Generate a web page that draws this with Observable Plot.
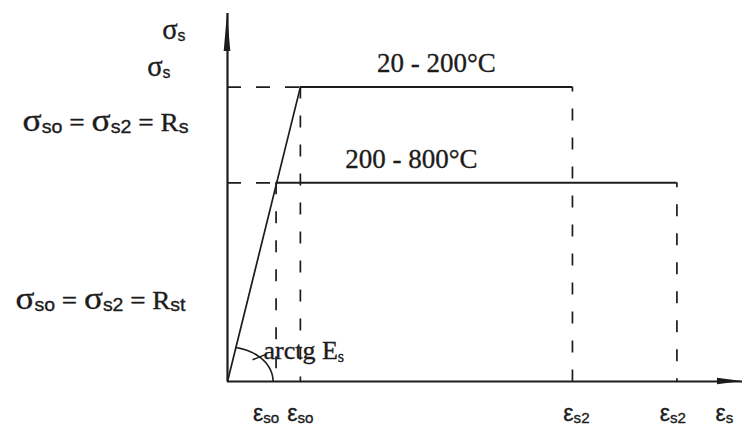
<!DOCTYPE html>
<html><head><meta charset="utf-8">
<script src="https://cdn.jsdelivr.net/npm/d3@7"></script>
<script src="https://cdn.jsdelivr.net/npm/@observablehq/plot@0.6"></script>
<style>body{margin:0;background:#fff}</style>
</head><body><div id="chart"></div>
<script>
// ---- Data (arbitrary normalized units) ----
const tempRanges     = ["200 - 800°C", "20 - 200°C"];
const strainYield    = [1.0, 1.5];     // εso for each temperature range
const strainUltimate = [9.25, 7.1];    // εs2 for each temperature range
const stressYield    = [0.675, 1.0];   // Rst, Rs
const xAxisMax = 10.6;
const yAxisMax = 1.25;
const yLabelTop   = "σ_{s}";
const yLabelSub   = "σ_{s}";
const yLabelRs    = "σ_{so} = σ_{s2} = R_{s}";
const yLabelRst   = "σ_{so} = σ_{s2} = R_{st}";
const xLabelSo    = "ε_{so}";
const xLabelS2    = "ε_{s2}";
const xLabelAxis  = "ε_{s}";
const angleLabel  = "arctg E_{s}";

const rows = stressYield.map((s, i) => ({s, e: strainYield[i], u: strainUltimate[i], label: tempRanges[i]}));
const elastic = [{e: 0, s: 0}, {e: strainYield[1], s: stressYield[1]}];

const ink = "#1c1c1c";
const serif = "Liberation Serif, Times New Roman, serif";
const sans = "Liberation Sans, Arial, sans-serif";
const textStyle = {fill: ink, stroke: ink, strokeWidth: 0.35};

const dash = "12,17";

const plot = Plot.plot({
  width: 743, height: 427,
  marginLeft: 227, marginRight: 1, marginTop: 13, marginBottom: 46,
  x: {domain: [0, xAxisMax], axis: null},
  y: {domain: [0, yAxisMax], axis: null},
  style: {background: "#fff", color: ink, overflow: "visible"},
  marks: [
    // dashed horizontal guides from the axis to the elastic line
    Plot.ruleY(rows, {y: "s", x1: () => 0, x2: "e", stroke: ink, strokeWidth: 1.7, strokeDasharray: "14,15"}),
    // dashed verticals at yield strain
    Plot.ruleX(rows, {x: "e", y1: "s", y2: () => 0, stroke: ink, strokeWidth: 1.7, strokeDasharray: dash}),
    // dashed verticals at ultimate strain
    Plot.ruleX(rows, {x: "u", y1: "s", y2: () => 0, stroke: ink, strokeWidth: 1.7, strokeDasharray: dash, strokeDashoffset: 7}),
    // plateaus
    Plot.ruleY(rows, {y: "s", x1: "e", x2: "u", stroke: ink, strokeWidth: 2}),
    // elastic branch
    Plot.line(elastic, {x: "e", y: "s", stroke: ink, strokeWidth: 1.7}),
    // axes
    Plot.ruleX([0], {y1: 0, y2: yAxisMax, stroke: ink, strokeWidth: 2.2}),
    Plot.ruleY([0], {x1: 0, x2: xAxisMax, stroke: ink, strokeWidth: 2.2}),
    // arrowheads, angle arc and its tick
    (index, scales) => {
      const g = d3.create("svg:g");
      const x0 = scales.x(0), y0 = scales.y(0);
      const xt = scales.x(xAxisMax), yt = scales.y(yAxisMax);
      g.append("path").attr("d", `M${x0},${yt}L${x0 + 3.3},${yt + 38}L${x0 - 3.3},${yt + 38}Z`).attr("fill", ink);
      g.append("path").attr("d", `M${xt},${y0}L${xt - 25},${y0 - 3.3}L${xt - 25},${y0 + 3.3}Z`).attr("fill", ink);
      // elliptical arc between x axis and elastic line
      const ex = scales.x(strainYield[1]) - x0, ey = y0 - scales.y(stressYield[1]);
      const ang = Math.atan2(ey, ex);
      const rx = 46, ry = 34;
      const t1 = Math.atan2(Math.tan(ang) * rx, ry);
      const pts = d3.range(0, 41).map(k => {
        const t = t1 * k / 40;
        return [x0 + rx * Math.cos(t), y0 - ry * Math.sin(t)];
      });
      g.append("path").attr("d", d3.line()(pts)).attr("fill", "none").attr("stroke", ink).attr("stroke-width", 1.6);
      const tm = Math.PI / 4;
      const cx = x0 + rx * Math.cos(tm), cy = y0 - ry * Math.sin(tm);
      const a = 22 * Math.PI / 180, L = 7.5;
      g.append("line")
        .attr("x1", cx - L * Math.cos(a)).attr("y1", cy + L * Math.sin(a))
        .attr("x2", cx + L * Math.cos(a)).attr("y2", cy - L * Math.sin(a))
        .attr("stroke", ink).attr("stroke-width", 1.5);
      return g.node();
    },
    // temperature range labels
    Plot.text([rows[1]], {x: d => (d.e + d.u) / 2, y: "s", text: "label", dy: -24, fontSize: 27, fontFamily: serif, ...textStyle}),
    Plot.text([rows[0]], {x: () => (rows[1].e + rows[1].u) / 2, y: "s", text: "label", dy: -23, dx: -25, fontSize: 27, fontFamily: serif, ...textStyle}),
    // y-side labels
    Plot.text([yLabelTop], {x: () => 0, y: () => yAxisMax, text: d => d, dx: -42, dy: 18, textAnchor: "end", fontSize: 22, fontFamily: serif, ...textStyle}),
    Plot.text([yLabelSub], {x: () => 0, y: () => yAxisMax, text: d => d, dx: -57, dy: 55, textAnchor: "end", fontSize: 22, fontFamily: serif, ...textStyle}),
    Plot.text([yLabelRs], {x: () => 0, y: () => stressYield[1], text: d => d, dx: -39, dy: 36, textAnchor: "end", fontSize: 25, fontFamily: serif, ...textStyle}),
    Plot.text([yLabelRst], {x: () => 0, y: () => 0, text: d => d, dx: -42, dy: -81, textAnchor: "end", fontSize: 25, fontFamily: serif, ...textStyle}),
    // angle label
    Plot.text([angleLabel], {x: () => 0, y: () => 0, text: d => d, dx: 36, dy: -31, textAnchor: "start", fontSize: 26, fontFamily: serif, ...textStyle}),
    // x-side labels
    Plot.text([xLabelSo], {x: () => strainYield[0], y: () => 0, text: d => d, dx: -10, dy: 32, fontSize: 23, fontFamily: sans, ...textStyle}),
    Plot.text([xLabelSo], {x: () => strainYield[1], y: () => 0, text: d => d, dx: 0, dy: 32, fontSize: 23, fontFamily: sans, ...textStyle}),
    Plot.text([xLabelS2], {x: () => strainUltimate[1], y: () => 0, text: d => d, dx: 4, dy: 32, fontSize: 23, fontFamily: sans, ...textStyle}),
    Plot.text([xLabelS2], {x: () => strainUltimate[0], y: () => 0, text: d => d, dx: -4, dy: 32, fontSize: 23, fontFamily: sans, ...textStyle}),
    Plot.text([xLabelAxis], {x: () => xAxisMax, y: () => 0, text: d => d, dx: -27, dy: 32, textAnchor: "start", fontSize: 23, fontFamily: sans, ...textStyle})
  ]
});

// turn "_{...}" markup into real subscript tspans; enlarge σ like the original typesetting
const stretch = new Map([[yLabelRs, 166], [yLabelRst, 170]]);
const sigmaLabels = new Set([yLabelTop, yLabelRs, yLabelRst]);
plot.querySelectorAll("text").forEach(t => {
  const s = t.textContent;
  if (!s.includes("_{")) return;
  const isArc = s === angleLabel;
  const isSigma = sigmaLabels.has(s);
  const parts = s.split(/(_\{[^}]*\}|σ)/).filter(p => p.length);
  while (t.firstChild) t.removeChild(t.firstChild);
  let down = false;
  const shift = isArc ? 3 : 2;
  for (const p of parts) {
    const ts = document.createElementNS("http://www.w3.org/2000/svg", "tspan");
    if (p.startsWith("_{")) {
      ts.textContent = p.slice(2, -1);
      ts.setAttribute("font-size", isArc ? "0.62em" : (isSigma ? "0.72em" : "0.66em"));
      if (!isArc) ts.setAttribute("font-family", sans);
      if (!down) { ts.setAttribute("dy", shift); down = true; }
    } else {
      ts.textContent = p;
      if (p === "σ") ts.setAttribute("font-size", "1.3em");
      if (down) { ts.setAttribute("dy", -shift); down = false; }
    }
    t.appendChild(ts);
  }
  if (stretch.has(s)) {
    t.setAttribute("textLength", stretch.get(s));
    t.setAttribute("lengthAdjust", "spacingAndGlyphs");
  }
});

document.getElementById("chart").appendChild(plot);
</script>
</body></html>
